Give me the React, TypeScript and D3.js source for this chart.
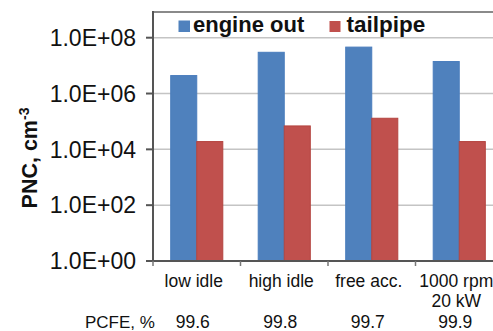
import React from "react";
import * as d3 from "d3";

// Particle number concentration, engine out vs tailpipe, per operating point
const categoryLines: string[][] = [["low idle"], ["high idle"], ["free acc."], ["1000 rpm", "20 kW"]];
const categoryKeys = ["low idle", "high idle", "free acc.", "1000 rpm 20 kW"];
const seriesNames = ["engine out", "tailpipe"];
const engineOut = [4.4e6, 3.0e7, 4.6e7, 1.4e7];
const tailpipe = [1.9e4, 6.9e4, 1.3e5, 1.9e4];
const pcfeValues = ["99.6", "99.8", "99.7", "99.9"];
const yTicks = [1e0, 1e2, 1e4, 1e6, 1e8];

const W = 493;
const H = 331;
const left = 153;
const right = 503;
const bottom = 261;
const top = 12;
const font = "'Liberation Sans', Arial, Helvetica, sans-serif";
const colors = ["#4f81bd", "#c0504d"];
const strokes = ["#4a7dbd", "#b4443f"];

function sci(v: number): string {
  const e = Math.round(Math.log10(v));
  const m = v / Math.pow(10, e);
  return `${m.toFixed(1)}E+${String(e).padStart(2, "0")}`;
}

export default function App() {
  const y = d3.scaleLog().domain([1, 1e9]).range([bottom, bottom - (bottom - 37.7) * 9 / 8]);
  const x0 = d3.scaleBand<string>().domain(categoryKeys).range([left, right]).padding(0);
  const x1 = d3
    .scaleBand<string>()
    .domain(seriesNames)
    .range([0, x0.bandwidth()])
    .paddingInner(0)
    .paddingOuter(0.68);
  const series = [engineOut, tailpipe];

  return (
    <svg
      width={W}
      height={H}
      style={{ position: "absolute", left: 0, top: 0, background: "#fff", fontFamily: font }}
    >
      <rect x={0} y={0} width={W} height={H} fill="#fff" />
      {/* gridlines */}
      {yTicks.slice(1).map((t) => (
        <line key={t} x1={left} x2={right} y1={y(t)} y2={y(t)} stroke="#c4c4c4" strokeWidth={1.5} />
      ))}
      {/* plot frame top */}
      <line x1={left} x2={right} y1={top} y2={top} stroke="#8a8a8a" strokeWidth={2} />
      {/* bars */}
      {categoryKeys.map((c, i) =>
        seriesNames.map((s, j) => {
          const v = series[j][i];
          const bx = (x0(c) ?? 0) + (x1(s) ?? 0);
          return (
            <rect
              key={c + s}
              x={bx}
              y={y(v)}
              width={x1.bandwidth()}
              height={bottom - y(v)}
              fill={colors[j]}
              stroke={strokes[j]}
              strokeWidth={1}
            />
          );
        })
      )}
      {/* axes */}
      <line x1={left} x2={left} y1={top - 1} y2={bottom} stroke="#555" strokeWidth={2} />
      <line x1={left - 7} x2={right} y1={bottom} y2={bottom} stroke="#555" strokeWidth={2} />
      {yTicks.map((t) => (
        <g key={t}>
          <line x1={left - 7} x2={left} y1={y(t)} y2={y(t)} stroke="#555" strokeWidth={2} />
          <text x={136} y={y(t)} dy="0.36em" textAnchor="end" fontSize={23} fill="#111">
            {sci(t)}
          </text>
        </g>
      ))}
      {categoryKeys.map((c) => (
        <line
          key={c}
          x1={x0(c)}
          x2={x0(c)}
          y1={bottom}
          y2={bottom + 5}
          stroke="#777"
          strokeWidth={1.5}
        />
      ))}
      {/* category labels */}
      {categoryLines.map((lines, i) => {
        const cx = (x0(categoryKeys[i]) ?? 0) + x0.bandwidth() / 2 - 3;
        return (
          <text key={i} textAnchor="middle" fontSize={17.5} fill="#111">
            {lines.map((l, k) => (
              <tspan key={k} x={cx} y={287 + k * 20}>
                {l}
              </tspan>
            ))}
          </text>
        );
      })}
      {/* PCFE row */}
      <text x={85} y={328} fontSize={17} fill="#111">
        PCFE, %
      </text>
      {pcfeValues.map((p, i) => (
        <text
          key={i}
          x={(x0(categoryKeys[i]) ?? 0) + x0.bandwidth() / 2 - 4}
          y={328}
          textAnchor="middle"
          fontSize={17.5}
          fill="#111"
        >
          {p}
        </text>
      ))}
      {/* y axis title */}
      <text
        transform="translate(37,158) rotate(-90)"
        textAnchor="middle"
        fontSize={21.5}
        fontWeight="bold"
        fill="#111"
      >
        PNC, cm
        <tspan dy={-8} fontSize={14}>
          -3
        </tspan>
      </text>
      {/* legend */}
      <rect x={178.5} y={20.5} width={11.5} height={11.5} fill={colors[0]} />
      <text x={193} y={32} fontSize={22} fontWeight="bold" fill="#111">
        {seriesNames[0]}
      </text>
      <rect x={329.5} y={21} width={11} height={11} fill={colors[1]} />
      <text x={346.5} y={32} fontSize={22.5} fontWeight="bold" fill="#111">
        {seriesNames[1]}
      </text>
    </svg>
  );
}
